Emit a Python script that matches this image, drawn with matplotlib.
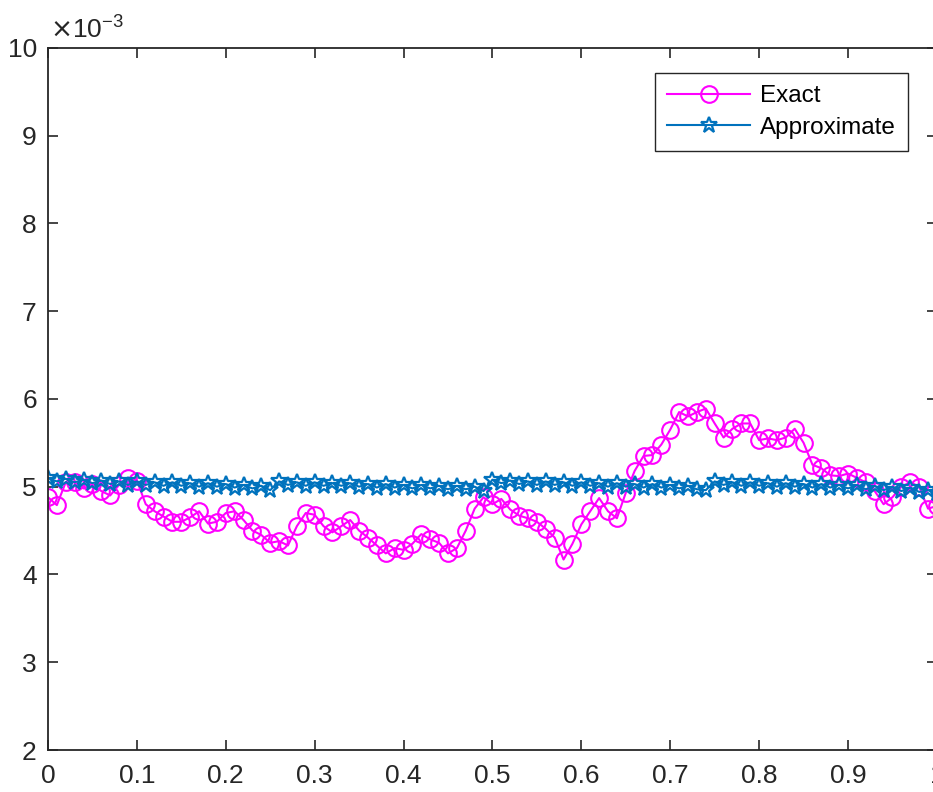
import numpy as np
import matplotlib
matplotlib.use('Agg')
import matplotlib.pyplot as plt
from matplotlib.ticker import FuncFormatter

plt.rcParams['font.family'] = ['Liberation Sans', 'DejaVu Sans']

# x grid, 0 : 0.01 : 1
x = np.linspace(0.0, 1.0, 101)

# values in units of 1e-3
exact = [
    4.88, 4.79, 5.05, 5.05, 4.98, 5.03, 4.95, 4.90, 5.02, 5.10,
    5.07, 4.80, 4.72, 4.66, 4.60, 4.60, 4.65, 4.72, 4.58, 4.60,
    4.70, 4.72, 4.62, 4.50, 4.45, 4.36, 4.38, 4.33, 4.55, 4.70,
    4.68, 4.55, 4.48, 4.55, 4.62, 4.50, 4.42, 4.33, 4.24, 4.30,
    4.28, 4.35, 4.46, 4.40, 4.36, 4.24, 4.30, 4.50, 4.75, 4.88,
    4.80, 4.86, 4.74, 4.67, 4.64, 4.60, 4.52, 4.42, 4.17, 4.35,
    4.57, 4.72, 4.87, 4.72, 4.64, 4.93, 5.18, 5.35, 5.36, 5.48,
    5.65, 5.85, 5.80, 5.85, 5.89, 5.72, 5.56, 5.66, 5.72, 5.72,
    5.53, 5.55, 5.53, 5.56, 5.66, 5.50, 5.25, 5.21, 5.13, 5.12,
    5.15, 5.10, 5.05, 4.95, 4.80, 4.88, 5.00, 5.05, 5.00, 4.75,
    4.78,
]

approx = [
    5.10, 5.06, 5.09, 5.05, 5.08, 5.04, 5.07, 5.03, 5.06, 5.02,
    5.06, 5.02, 5.05, 5.01, 5.05, 5.01, 5.04, 5.00, 5.04, 5.00,
    5.03, 4.99, 5.02, 4.98, 5.01, 4.96,
    5.06, 5.02, 5.05, 5.01, 5.05, 5.01, 5.04, 5.01, 5.04, 5.00,
    5.03, 4.99, 5.03, 4.99, 5.02, 4.98, 5.02, 4.98, 5.01, 4.97,
    5.01, 4.97, 5.00, 4.95,
    5.08, 5.04, 5.07, 5.03, 5.06, 5.02, 5.06, 5.02, 5.05, 5.01,
    5.05, 5.01, 5.04, 5.00, 5.04, 5.00, 5.03, 4.99, 5.03, 4.99,
    5.02, 4.98, 5.01, 4.97, 4.96,
    5.06, 5.02, 5.05, 5.01, 5.05, 5.01, 5.04, 5.00, 5.04, 5.00,
    5.03, 4.99, 5.03, 4.99, 5.02, 4.98, 5.02, 4.97, 5.01, 4.96,
    5.00, 4.95, 4.99, 4.94, 4.96, 4.93,
]

x_ticklabels = ['0', '0.1', '0.2', '0.3', '0.4', '0.5', '0.6', '0.7', '0.8', '0.9', '1']

SCALE = 1e-3
MAGENTA = '#FF00FF'
BLUE = '#0072BD'
AXCOL = '#262626'

fig = plt.figure(figsize=(9.33, 7.92), dpi=100)
ax = fig.add_axes([0.0514, 0.0530, 0.9528, 0.8867])

ax.plot(x, np.array(exact) * SCALE, color=MAGENTA, marker='o', markersize=12,
        markerfacecolor='none', markeredgewidth=1.5, linewidth=1.5, label='Exact')
ax.plot(x, np.array(approx) * SCALE, color=BLUE, marker='*', markersize=12,
        markerfacecolor='none', markeredgewidth=1.6, linewidth=1.5, label='Approximate')

ax.set_xlim(0, 1)
ax.set_ylim(2e-3, 10e-3)
ax.set_xticks(np.arange(0, 1.01, 0.1))
ax.set_xticklabels(x_ticklabels)
ax.set_yticks(np.arange(2, 10.5, 1) * SCALE)
ax.yaxis.set_major_formatter(FuncFormatter(lambda v, p: f'{v / SCALE:g}'))

# exponent label, MATLAB style
ax.text(0.002, 1.008, r'$\times$10$^{\mathregular{-3}}$', transform=ax.transAxes,
        ha='left', va='bottom', fontsize=19, color=AXCOL)

ax.tick_params(axis='both', direction='in', length=7, width=1.2, top=True, right=True,
               labelsize=19, colors=AXCOL)
ax.tick_params(axis='x', pad=10)
ax.tick_params(axis='y', pad=8)
for sp in ax.spines.values():
    sp.set_color(AXCOL)
    sp.set_linewidth(1.3)

leg = ax.legend(loc='upper right', bbox_to_anchor=(0.967, 0.964), fontsize=17.5,
                frameon=True, fancybox=False, framealpha=1, edgecolor='#262626',
                borderaxespad=0.0, handlelength=3.4, handletextpad=0.4,
                borderpad=0.5, labelspacing=0.4)
leg.get_frame().set_linewidth(1.0)

fig.savefig('out.png', dpi=100)
